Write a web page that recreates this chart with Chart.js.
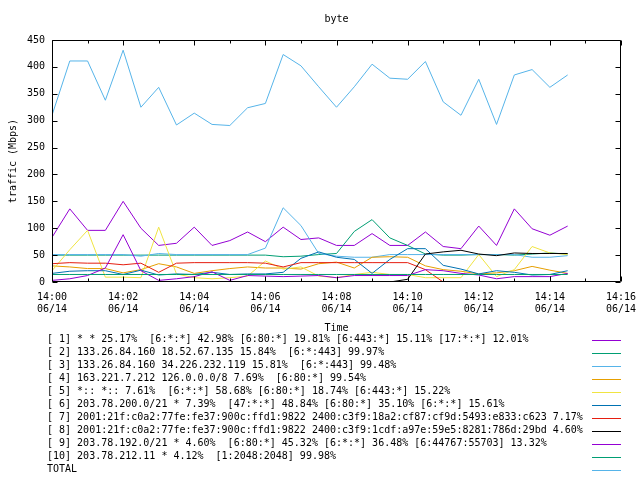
<!DOCTYPE html>
<html>
<head>
<meta charset="utf-8">
<script src="https://cdn.jsdelivr.net/npm/chart.js@4/dist/chart.umd.min.js"></script>
<style>
  html, body { margin: 0; padding: 0; background: #fff; overflow: hidden; }
  canvas { display: block; }
</style>
</head>
<body>
<canvas id="c" width="640" height="480"></canvas>
<script>
// ---- data ----
const chartTitle = "byte";
const yAxisTitle = "traffic (Mbps)";
const xAxisTitle = "Time";
const times = ["14:00:00","14:00:30","14:01:00","14:01:30","14:02:00","14:02:30","14:03:00","14:03:30","14:04:00","14:04:30",
               "14:05:00","14:05:30","14:06:00","14:06:30","14:07:00","14:07:30","14:08:00","14:08:30","14:09:00","14:09:30",
               "14:10:00","14:10:30","14:11:00","14:11:30","14:12:00","14:12:30","14:13:00","14:13:30","14:14:00","14:14:30"];
const xTickLabels = ["14:00","14:02","14:04","14:06","14:08","14:10","14:12","14:14","14:16"];
const xTickDate = "06/14";
const yTickLabels = ["0","50","100","150","200","250","300","350","400","450"];

const s1  = [83,136,96,96,150,100,68,72,102,68,77,93,75,102,79,82,68,68,90,68,68,93,66,62,104,68,136,99,87,104];
const s2  = [50,50,50,50,50,50,50,50,50,50,50,50,50,47,48,51,53,94,116,82,68,52,50,50,51,51,50,52,54,52];
const s3  = [51,51,51,51,51,48,53,51,51,51,51,51,63,138,105,53,48,46,46,51,51,51,51,51,51,51,51,46,46,49];
const s4  = [30,28,25,25,17,23,34,28,16,21,25,28,26,26,24,34,37,26,46,47,46,30,23,20,15,17,21,29,22,16];
const s5  = [21,60,96,9,9,8,102,15,8,6,8,11,39,24,28,11,8,14,18,14,14,8,8,8,51,10,23,66,54,51];
const s6  = [16,20,21,21,14,22,13,15,14,18,14,15,15,18,44,56,46,42,16,42,62,62,31,24,15,21,18,13,14,21];
const s7  = [34,36,35,35,32,35,18,35,36,36,36,36,35,28,36,36,36,36,36,36,36,23,0,null,null,null,null,null,null,null];
const s8  = [null,null,null,null,null,null,null,null,null,null,null,null,null,null,null,null,null,null,null,0,5,52,56,59,52,49,54,53,53,53];
const s9  = [3,6,12,26,88,21,3,6,10,19,3,12,11,10,11,12,8,12,12,12,12,23,21,16,13,6,10,10,10,16];
const s10 = [14,14,14,14,14,14,14,14,14,14,14,14,14,14,14,14,14,14,14,14,14,14,14,14,14,14,14,14,14,14];
const total = [310,411,411,338,431,325,362,292,314,293,291,324,332,423,402,363,325,363,405,379,377,410,335,310,377,293,385,395,362,385];

const seriesLabels = [
  "[ 1] * * 25.17%  [6:*:*] 42.98% [6:80:*] 19.81% [6:443:*] 15.11% [17:*:*] 12.01%",
  "[ 2] 133.26.84.160 18.52.67.135 15.84%  [6:*:443] 99.97%",
  "[ 3] 133.26.84.160 34.226.232.119 15.81%  [6:*:443] 99.48%",
  "[ 4] 163.221.7.212 126.0.0.0/8 7.69%  [6:80:*] 99.54%",
  "[ 5] *:: *:: 7.61%  [6:*:*] 58.68% [6:80:*] 18.74% [6:443:*] 15.22%",
  "[ 6] 203.78.200.0/21 * 7.39%  [47:*:*] 48.84% [6:80:*] 35.10% [6:*:*] 15.61%",
  "[ 7] 2001:21f:c0a2:77fe:fe37:900c:ffd1:9822 2400:c3f9:18a2:cf87:cf9d:5493:e833:c623 7.17%",
  "[ 8] 2001:21f:c0a2:77fe:fe37:900c:ffd1:9822 2400:c3f9:1cdf:a97e:59e5:8281:786d:29bd 4.60%",
  "[ 9] 203.78.192.0/21 * 4.60%  [6:80:*] 45.32% [6:*:*] 36.48% [6:44767:55703] 13.32%",
  "[10] 203.78.212.11 * 4.12%  [1:2048:2048] 99.98%",
  "TOTAL"
];
const seriesColors = ["#9400d3","#009e73","#56b4e9","#e69f00","#f0e442","#0072b2","#e51e10","#000000","#9400d3","#009e73","#56b4e9"];
const seriesValues = [s1,s2,s3,s4,s5,s6,s7,s8,s9,s10,total];

// ---- build ----
function toMinutes(t){ const p = t.split(":").map(Number); return (p[0]-14)*60 + p[1] + p[2]/60; }
const xs = times.map(toMinutes);
const FONT = "DejaVu Sans Mono";

const datasets = seriesValues.map((vals, i) => ({
  label: seriesLabels[i],
  data: vals.map((v, k) => ({x: xs[k], y: v})),
  borderColor: seriesColors[i],
  backgroundColor: seriesColors[i],
  borderWidth: 1,
  pointRadius: 0,
  tension: 0,
  fill: false,
  spanGaps: false,
  order: seriesValues.length - i
}));

const decor = {
  id: 'decor',
  afterDraw(chart) {
    const ctx = chart.ctx, a = chart.chartArea;
    const xs_ = chart.scales.x, ys_ = chart.scales.y;
    ctx.save();
    ctx.strokeStyle = '#000';
    ctx.lineWidth = 1;
    // frame
    const L = Math.round(a.left)+0.5, R = Math.round(a.right)-0.5, T = Math.round(a.top)+0.5, B = Math.round(a.bottom)-0.5;
    ctx.beginPath();
    ctx.rect(L, T, R-L, B-T);
    ctx.stroke();
    // inward ticks
    ctx.beginPath();
    for (let m = 0; m <= 16; m++) {
      const px = Math.round(xs_.getPixelForValue(m)) + 0.5;
      const len = (m % 2 === 0) ? 5 : 3;
      ctx.moveTo(px, B); ctx.lineTo(px, B - len);
      ctx.moveTo(px, T); ctx.lineTo(px, T + len);
    }
    for (let v = 0; v <= 450; v += 50) {
      const py = Math.round(ys_.getPixelForValue(v)) + 0.5;
      ctx.moveTo(L, py); ctx.lineTo(L + 5, py);
      ctx.moveTo(R, py); ctx.lineTo(R - 5, py);
    }
    ctx.stroke();
    // texts
    ctx.fillStyle = '#000';
    ctx.font = "10px '" + FONT + "'";
    ctx.textAlign = 'center';
    ctx.textBaseline = 'middle';
    const cx = (a.left + a.right) / 2;
    ctx.fillText(chartTitle, cx, 19);
    ctx.fillText(xAxisTitle, cx, 328);
    ctx.save();
    ctx.translate(13, (a.top + a.bottom) / 2);
    ctx.rotate(-Math.PI/2);
    ctx.fillText(yAxisTitle, 0, 0);
    ctx.restore();
    // legend
    ctx.textAlign = 'left';
    chart.data.datasets.forEach((ds, i) => {
      const y = 339.5 + i * 13;
      ctx.fillStyle = '#000';
      ctx.fillText(ds.label, 47, y);
      ctx.strokeStyle = ds.borderColor;
      ctx.beginPath();
      ctx.moveTo(592, Math.round(y) + 0.5);
      ctx.lineTo(621, Math.round(y) + 0.5);
      ctx.stroke();
    });
    ctx.restore();
  }
};

new Chart(document.getElementById('c').getContext('2d'), {
  type: 'line',
  data: { datasets },
  options: {
    responsive: false,
    animation: false,
    events: [],
    layout: { padding: { top: 40, right: 19, left: 0, bottom: 0 } },
    plugins: { legend: { display: false }, title: { display: false }, tooltip: { enabled: false } },
    scales: {
      x: {
        type: 'linear', min: 0, max: 16,
        grid: { display: false, drawTicks: false },
        border: { display: false },
        ticks: {
          stepSize: 2, autoSkip: false, maxRotation: 0, minRotation: 0, padding: 9,
          color: '#000', font: { family: FONT, size: 10, lineHeight: 1.25 },
          callback: (v) => [xTickLabels[Math.round(v / 2)], xTickDate]
        },
        afterFit: (s) => { s.height = 198; s.paddingRight = 0; s.paddingLeft = 0; }
      },
      y: {
        min: 0, max: 450,
        grid: { display: false, drawTicks: false },
        border: { display: false },
        ticks: {
          stepSize: 50, padding: 7, color: '#000', font: { family: FONT, size: 10 },
          callback: (v) => yTickLabels[Math.round(v / 50)]
        },
        afterFit: (s) => { s.width = 52; s.paddingTop = 0; s.paddingBottom = 0; }
      }
    }
  },
  plugins: [decor]
});
</script>
</body>
</html>
